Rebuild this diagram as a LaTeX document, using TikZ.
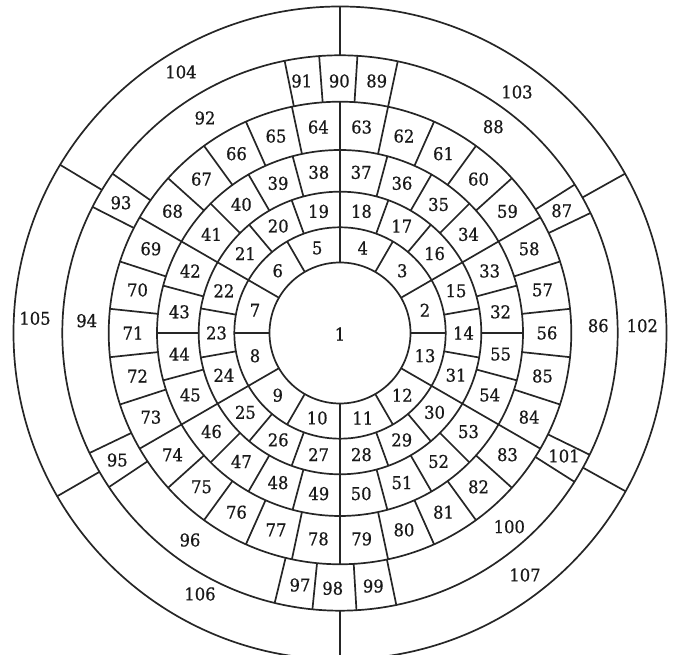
\documentclass[tikz,border=0pt]{standalone}
\usepackage{fontspec}
\setmainfont{DejaVu Serif}[FakeStretch=0.93,FakeBold=0.7]
\begin{document}
\begin{tikzpicture}[x=1pt,y=1pt,line width=1.7pt,
  lbl/.style={font=\fontsize{17.6}{20}\selectfont,inner sep=0pt,text=black!90},
  ringline/.style={line width=1.7pt,draw=black!85}]
\useasboundingbox (0,0) rectangle (673,655);
\clip (0,0) rectangle (673,655);
\begin{scope}[shift={(340,322)}]
\coordinate (O) at (0,0);
% circles
\foreach \r in {70.5,105.7,141.3,183,231.3,277.7,326.5}
  \draw[ringline] (O) circle[radius=\r];
% ring 2 dividers
\foreach \a in {0,30,...,330}
  \draw[ringline] ({\a}:70.5) -- ({\a}:105.7);
% ring 3 dividers
\foreach \a in {10,30,...,350}
  \draw[ringline] ({\a}:105.7) -- ({\a}:141.3);
% ring 4 dividers
\foreach \a in {0,15,...,345}
  \draw[ringline] ({\a}:141.3) -- ({\a}:183);
% ring 5 dividers
\foreach \a in {6,18,...,354}
  \draw[ringline] ({\a}:183) -- ({\a}:231.3);
% ring 6 dividers
\foreach \a in {25.6,32.3,78,86.4,94.3,101.5,145,153,205.6,213.7,256.4,264.3,273.4,281.7,327.6,334}
  \draw[ringline] ({\a}:231.3) -- ({\a}:277.7);
% ring 7 dividers
\foreach \a in {29.2,90,149,210,270,331}
  \draw[ringline] ({\a}:277.7) -- ({\a}:326.5);
% labels
\node[lbl] (c1) at (0,-1) {1};
\foreach \k in {0,...,11}{
  \pgfmathtruncatemacro\n{2+\k}
  \node[lbl] (c\n) at ({15+30*\k}:88) {\n};}
\foreach \k in {0,...,17}{
  \pgfmathtruncatemacro\n{14+\k}
  \node[lbl] (c\n) at ({20*\k}:123.5) {\n};}
\foreach \k in {0,...,23}{
  \pgfmathtruncatemacro\n{32+\k}
  \node[lbl] (c\n) at ({7.5+15*\k}:162) {\n};}
\foreach \k in {0,...,29}{
  \pgfmathtruncatemacro\n{56+\k}
  \node[lbl] (c\n) at ({12*\k}:207) {\n};}
\foreach \n/\x/\y in {86/258.3/7.3, 87/221.7/122.3, 88/153.3/206.3, 89/36.7/252,
  90/-0.7/252, 91/-38.3/252, 92/-135/215, 93/-219/130.3, 94/-253.3/12.3,
  95/-222.7/-127, 96/-150/-207, 97/-40/-252, 98/-7.3/-255.3, 99/33.3/-253,
  100/169.3/-193.7, 101/224/-123,
  102/302.3/7.3, 103/177/241, 104/-159/261, 105/-305/14.7, 106/-140/-261, 107/185/-242}
  \node[lbl] (c\n) at (\x,\y) {\n};
\end{scope}
\end{tikzpicture}
\end{document}
